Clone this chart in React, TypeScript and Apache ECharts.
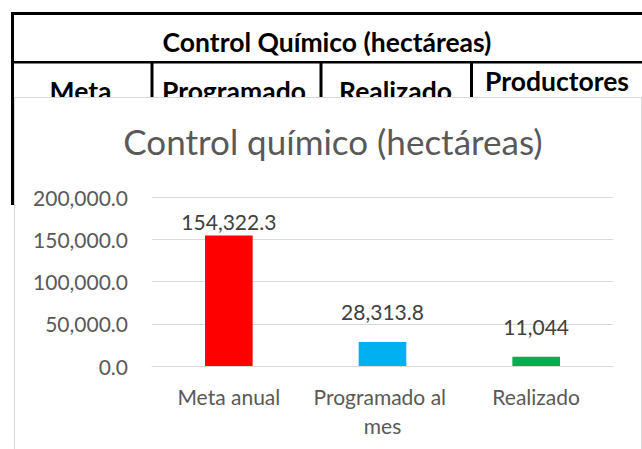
import React, { useEffect, useRef } from "react";
import * as echarts from "echarts";

const categories = ["Meta anual", "Programado al mes", "Realizado"];
const values = [154322.3, 28313.8, 11044];
const barColors = ["#FF0000", "#00B0F0", "#00B050"];
const yTicks = { min: 0, max: 200000, interval: 50000 };
const chartTitle = "Control químico (hectáreas)";
const tableTitle = "Control Químico (hectáreas)";
const tableHeaders = ["Meta", "Programado", "Realizado", "Productores"];

const FONT = "Lato";

export default function App() {
  const ref = useRef<HTMLDivElement>(null);
  useEffect(() => {
    if (!ref.current) return;
    const chart = echarts.init(ref.current, null, { renderer: "svg" });
    const headerX = [80.5, 234, 395.5, 557];
    const headerY = [91, 91, 91, 80.5];
    const labelDistance = [4, 20, 20];
    const option: any = {
      animation: false,
      backgroundColor: "#ffffff",
      title: {
        text: chartTitle,
        left: 328,
        top: 118,
        textAlign: "center",
        textStyle: { fontFamily: FONT, fontSize: 35, fontWeight: "normal", color: "#595959" },
        z: 6,
      },
      graphic: [
        // spreadsheet table behind the chart
        { type: "rect", z: 0, shape: { x: 11, y: 12, width: 640, height: 3 }, style: { fill: "#000" } },
        { type: "rect", z: 0, shape: { x: 11, y: 12, width: 3, height: 193 }, style: { fill: "#000" } },
        { type: "rect", z: 0, shape: { x: 11, y: 61, width: 640, height: 2.5 }, style: { fill: "#000" } },
        { type: "rect", z: 0, shape: { x: 150.5, y: 61, width: 3, height: 40 }, style: { fill: "#000" } },
        { type: "rect", z: 0, shape: { x: 319.5, y: 61, width: 3, height: 40 }, style: { fill: "#000" } },
        { type: "rect", z: 0, shape: { x: 470, y: 61, width: 3, height: 40 }, style: { fill: "#000" } },
        {
          type: "text", z: 0, x: 327, y: 42,
          style: { text: tableTitle, fontFamily: FONT, fontWeight: "bold", fontSize: 26.5, fill: "#000", textAlign: "center", textVerticalAlign: "middle" },
        },
        ...tableHeaders.map((h, i) => ({
          type: "text", z: 0, x: headerX[i], y: headerY[i],
          style: { text: h, fontFamily: FONT, fontWeight: "bold", fontSize: 26.5, fill: "#000", textAlign: "center", textVerticalAlign: "middle" },
        })),
        // chart area box
        {
          type: "rect", z: 1,
          shape: { x: 14.5, y: 97.5, width: 627, height: 400 },
          style: { fill: "#ffffff", stroke: "#d9d9d9", lineWidth: 1 },
        },
      ],
      grid: { left: 152, right: 29, top: 197, bottom: 83 },
      xAxis: {
        type: "category",
        data: categories,
        z: 5,
        axisLine: { lineStyle: { color: "#d9d9d9", width: 1 } },
        axisTick: { show: false },
        axisLabel: {
          fontFamily: FONT, fontSize: 21, color: "#595959", margin: 16, lineHeight: 29,
          width: 150, overflow: "break", interval: 0,
        },
      },
      yAxis: {
        type: "value",
        min: yTicks.min,
        max: yTicks.max,
        interval: yTicks.interval,
        z: 5,
        axisLine: { show: false },
        axisTick: { show: false },
        splitLine: { lineStyle: { color: "#d9d9d9", width: 1 } },
        axisLabel: {
          fontFamily: FONT, fontSize: 21, color: "#595959", margin: 24,
          formatter: (v: number) => v.toLocaleString("en-US", { minimumFractionDigits: 1, maximumFractionDigits: 1 }),
        },
      },
      series: [
        {
          type: "bar",
          z: 6,
          barWidth: "31%",
          data: values.map((v, i) => ({
            value: v,
            itemStyle: { color: barColors[i] },
            label: { distance: labelDistance[i] },
          })),
          label: {
            show: true,
            position: "top",
            fontFamily: FONT,
            fontSize: 21,
            color: "#404040",
            formatter: (p: any) => Number(p.value).toLocaleString("en-US", { maximumFractionDigits: 1 }),
          },
        },
      ],
    };
    chart.setOption(option);
    return () => chart.dispose();
  }, []);
  return (
    <div
      ref={ref}
      style={{ position: "absolute", left: 0, top: 0, width: 642, height: 449 }}
    />
  );
}
